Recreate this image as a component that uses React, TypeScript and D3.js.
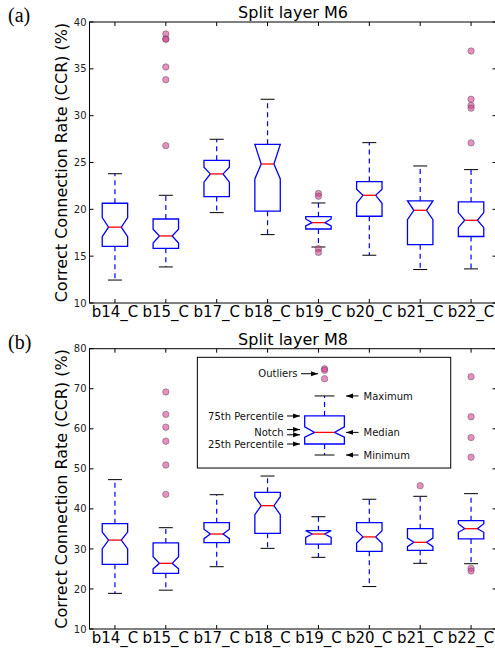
import { useEffect, useRef } from 'react';
import * as d3 from 'd3';

const categories = ['b14_C', 'b15_C', 'b17_C', 'b18_C', 'b19_C', 'b20_C', 'b21_C', 'b22_C'];

// Split layer M6
const m6WhiskerLow = [12.45, 13.85, 19.65, 17.3, 15.98, 15.1, 13.57, 13.64];
const m6Q1 = [16.05, 15.84, 21.36, 19.8, 17.9, 19.26, 16.23, 17.1];
const m6NotchLow = [17.08, 16.4, 22.9, 23.24, 18.22, 20.65, 18.9, 18.04];
const m6Median = [18.1, 17.16, 23.78, 24.84, 18.58, 21.5, 19.9, 18.83];
const m6NotchHigh = [19.11, 17.87, 24.5, 26.94, 18.97, 22.14, 20.9, 19.65];
const m6Q3 = [20.65, 18.97, 25.23, 26.94, 19.22, 22.96, 20.9, 20.79];
const m6WhiskerHigh = [23.8, 21.5, 27.48, 31.75, 20.68, 27.12, 24.63, 24.24];
const m6Outliers = [
  [],
  [38.72, 38.2, 38.15, 35.2, 33.84, 26.8],
  [],
  [],
  [21.7, 21.4, 15.8, 15.4],
  [],
  [],
  [36.9, 31.75, 31.1, 30.8, 27.1],
];

// Split layer M8
const m8WhiskerLow = [18.9, 19.7, 25.56, 30.14, 27.9, 20.6, 26.4, 26.3];
const m8Q1 = [26.15, 23.9, 31.55, 33.9, 31.2, 29.4, 29.65, 32.5];
const m8NotchLow = [30.0, 25.06, 32.55, 38.55, 32.9, 31.4, 30.55, 34.15];
const m8Median = [32.2, 26.4, 33.72, 40.8, 33.72, 33.0, 31.65, 35.05];
const m8NotchHigh = [34.2, 28.05, 34.9, 43.04, 34.55, 34.55, 32.7, 36.3];
const m8Q3 = [36.3, 31.5, 36.55, 44.13, 34.55, 36.55, 35.05, 37.05];
const m8WhiskerHigh = [47.3, 35.3, 43.54, 48.2, 38.04, 42.4, 43.14, 43.8];
const m8Outliers = [
  [],
  [69.2, 63.6, 60.4, 56.9, 50.95, 43.63],
  [],
  [],
  [],
  [],
  [45.8],
  [73.0, 63.0, 57.8, 52.9, 25.15, 24.5],
];

// explanatory box in panel (b): min, q1, notch low, median, notch high, q3, max
const legendBox = [53.45, 56.2, 57.9, 59.1, 60.5, 63.2, 68.2];
const legendOutliers = [75.0, 74.6, 72.5];
const legendLeftLabels = ['75th Percentile', 'Notch', '25th Percentile'];
const legendRightLabels = ['Maximum', 'Median', 'Minimum'];

const FONT = 'DejaVu Sans, sans-serif';
const BLUE = '#0000ff';
const RED = '#ff0000';

type Panel = {
  letter: string;
  title: string;
  top: number;
  bottom: number;
  domain: [number, number];
  step: number;
  whiskerLow: number[];
  q1: number[];
  notchLow: number[];
  median: number[];
  notchHigh: number[];
  q3: number[];
  whiskerHigh: number[];
  outliers: number[][];
};

const panels: Panel[] = [
  {
    letter: '(a)', title: 'Split layer M6', top: 22, bottom: 303, domain: [10, 40], step: 5,
    whiskerLow: m6WhiskerLow, q1: m6Q1, notchLow: m6NotchLow, median: m6Median,
    notchHigh: m6NotchHigh, q3: m6Q3, whiskerHigh: m6WhiskerHigh, outliers: m6Outliers,
  },
  {
    letter: '(b)', title: 'Split layer M8', top: 348.7, bottom: 629, domain: [10, 80], step: 10,
    whiskerLow: m8WhiskerLow, q1: m8Q1, notchLow: m8NotchLow, median: m8Median,
    notchHigh: m8NotchHigh, q3: m8Q3, whiskerHigh: m8WhiskerHigh, outliers: m8Outliers,
  },
];

function notchPath(cx: number, hw: number, y: d3.ScaleLinear<number, number>, s: number[]) {
  // s = [q1, notchLow, median, notchHigh, q3]
  const [q1, nlo, med, nhi, q3] = s;
  const p = d3.path();
  p.moveTo(cx - hw, y(q1));
  p.lineTo(cx + hw, y(q1));
  p.lineTo(cx + hw, y(nlo));
  p.lineTo(cx + hw / 2, y(med));
  p.lineTo(cx + hw, y(nhi));
  p.lineTo(cx + hw, y(q3));
  p.lineTo(cx - hw, y(q3));
  p.lineTo(cx - hw, y(nhi));
  p.lineTo(cx - hw / 2, y(med));
  p.lineTo(cx - hw, y(nlo));
  p.closePath();
  return p.toString();
}

export default function App() {
  const svgRef = useRef<SVGSVGElement>(null);

  useEffect(() => {
    if (!svgRef.current) return;
    const width = 495;
    const height = 654;

    d3.select(svgRef.current).selectAll('*').remove();
    const svg = d3.select(svgRef.current).attr('width', width).attr('height', height);

    svg
      .append('defs')
      .append('marker')
      .attr('id', 'arrowhead')
      .attr('markerUnits', 'userSpaceOnUse')
      .attr('markerWidth', 7)
      .attr('markerHeight', 6)
      .attr('refX', 7)
      .attr('refY', 3)
      .attr('orient', 'auto')
      .append('path')
      .attr('d', 'M0,0.5 L7,3 L0,5.5 Z')
      .attr('fill', '#000');

    const xScale = d3.scaleLinear().domain([0.5, 8.5]).range([89.5, 496.5]);
    const x0 = xScale(0.5);
    const x1 = xScale(8.5);
    const hw = xScale(1.25) - xScale(1);

    panels.forEach((pnl, pi) => {
      const yScale = d3.scaleLinear().domain(pnl.domain).range([pnl.bottom, pnl.top]);
      const g = svg.append('g');

      // Spines
      g.append('rect')
        .attr('x', x0)
        .attr('y', pnl.top)
        .attr('width', x1 - x0)
        .attr('height', pnl.bottom - pnl.top)
        .attr('fill', 'none')
        .attr('stroke', '#000')
        .attr('stroke-width', 1);

      // Y ticks (inside, both sides)
      const yTicks = d3.range(pnl.domain[0], pnl.domain[1] + 0.001, pnl.step);
      yTicks.forEach((t) => {
        const yy = yScale(t);
        g.append('line').attr('x1', x0).attr('x2', x0 + 4).attr('y1', yy).attr('y2', yy).attr('stroke', '#000');
        g.append('line').attr('x1', x1 - 4).attr('x2', x1).attr('y1', yy).attr('y2', yy).attr('stroke', '#000');
        g.append('text')
          .attr('x', x0 - 3)
          .attr('y', yy)
          .attr('dy', '0.36em')
          .attr('text-anchor', 'end')
          .attr('font-family', FONT)
          .attr('font-size', 10)
          .attr('fill', '#222')
          .text(t);
      });

      // X ticks (inside, top and bottom) and category labels
      categories.forEach((c, i) => {
        const xx = xScale(i + 1);
        g.append('line').attr('x1', xx).attr('x2', xx).attr('y1', pnl.bottom).attr('y2', pnl.bottom - 4).attr('stroke', '#000');
        g.append('line').attr('x1', xx).attr('x2', xx).attr('y1', pnl.top).attr('y2', pnl.top + 4).attr('stroke', '#000');
        g.append('text')
          .attr('x', xx)
          .attr('y', pnl.bottom + 14)
          .attr('text-anchor', 'middle')
          .attr('font-family', FONT)
          .attr('font-size', 15)
          .attr('fill', '#000')
          .text(c);
      });

      // Title, panel letter, y label
      g.append('text')
        .attr('x', (x0 + x1) / 2)
        .attr('y', pnl.top - 4)
        .attr('text-anchor', 'middle')
        .attr('font-family', FONT)
        .attr('font-size', 16)
        .text(pnl.title);

      g.append('text')
        .attr('x', 8)
        .attr('y', pnl.top)
        .attr('font-family', 'Liberation Serif, serif')
        .attr('font-size', 20)
        .text(pnl.letter);

      g.append('text')
        .attr('transform', `translate(67, ${(pnl.top + pnl.bottom) / 2}) rotate(-90)`)
        .attr('text-anchor', 'middle')
        .attr('font-family', FONT)
        .attr('font-size', 16)
        .text('Correct Connection Rate (CCR) (%)');

      // Inset explanation in panel (b)
      if (pi === 1) {
        const ig = g.append('g');
        ig.append('rect')
          .attr('x', xScale(2.62))
          .attr('y', yScale(77.85))
          .attr('width', xScale(7.6) - xScale(2.62))
          .attr('height', yScale(50.2) - yScale(77.85))
          .attr('fill', '#fff')
          .attr('stroke', '#000')
          .attr('stroke-width', 1);

        const cx = xScale(5.12);
        const lhw = xScale(5.51) - xScale(5.12);
        const [mn, lq1, lnlo, lmed, lnhi, lq3, mx] = legendBox;

        ig.append('line').attr('x1', cx).attr('x2', cx).attr('y1', yScale(lq3)).attr('y2', yScale(mx))
          .attr('stroke', BLUE).attr('stroke-width', 1.2).attr('stroke-dasharray', '5,4');
        ig.append('line').attr('x1', cx).attr('x2', cx).attr('y1', yScale(lq1)).attr('y2', yScale(mn))
          .attr('stroke', BLUE).attr('stroke-width', 1.2).attr('stroke-dasharray', '5,4');
        [mn, mx].forEach((v) => {
          ig.append('line').attr('x1', cx - lhw / 2).attr('x2', cx + lhw / 2).attr('y1', yScale(v)).attr('y2', yScale(v))
            .attr('stroke', '#000').attr('stroke-width', 1);
        });
        ig.append('path')
          .attr('d', notchPath(cx, lhw, yScale, [lq1, lnlo, lmed, lnhi, lq3]))
          .attr('fill', '#fff')
          .attr('stroke', BLUE)
          .attr('stroke-width', 1.3);
        ig.append('line').attr('x1', cx - lhw / 2).attr('x2', cx + lhw / 2).attr('y1', yScale(lmed)).attr('y2', yScale(lmed))
          .attr('stroke', RED).attr('stroke-width', 1.3);
        legendOutliers.forEach((v) => {
          ig.append('circle').attr('cx', cx).attr('cy', yScale(v)).attr('r', 3.2)
            .attr('fill', '#d6338a').attr('fill-opacity', 0.55).attr('stroke', '#555').attr('stroke-opacity', 0.5);
        });

        const arrow = (xa: number, xb: number, yy: number) => {
          ig.append('line').attr('x1', xa).attr('x2', xb).attr('y1', yy).attr('y2', yy)
            .attr('stroke', '#000').attr('stroke-width', 1).attr('marker-end', 'url(#arrowhead)');
        };
        const label = (xx: number, yy: number, anchor: string, s: string) => {
          ig.append('text').attr('x', xx).attr('y', yy).attr('dy', '0.36em').attr('text-anchor', anchor)
            .attr('font-family', FONT).attr('font-size', 10).attr('fill', '#111').text(s);
        };

        // Outliers
        const yOut = (yScale(legendOutliers[0]) + yScale(legendOutliers[2])) / 2;
        label(cx - 27, yOut, 'end', 'Outliers');
        arrow(cx - 23.5, cx - 6.5, yOut);

        // Left side labels
        const leftY = [yScale(lq3), yScale(lmed), yScale(lq1)];
        legendLeftLabels.forEach((s, i) => label(cx - 41, leftY[i], 'end', s));
        arrow(cx - 37.5, cx - 24.5, yScale(lq3));
        arrow(cx - 37.5, cx - 24.5, yScale(lq1));
        arrow(cx - 37.5, cx - 24.5, (yScale(lnhi) + yScale(lmed)) / 2);
        arrow(cx - 37.5, cx - 24.5, (yScale(lnlo) + yScale(lmed)) / 2);

        // Right side labels
        const rightY = [yScale(mx), yScale(lmed), yScale(mn)];
        legendRightLabels.forEach((s, i) => {
          label(cx + 39, rightY[i], 'start', s);
          arrow(cx + 34, cx + 21.5, rightY[i]);
        });
      }

      // Boxes
      categories.forEach((_, i) => {
        const cx = xScale(i + 1);
        const bg = g.append('g');

        bg.append('line').attr('x1', cx).attr('x2', cx)
          .attr('y1', yScale(pnl.q3[i])).attr('y2', yScale(pnl.whiskerHigh[i]))
          .attr('stroke', BLUE).attr('stroke-width', 1.2).attr('stroke-dasharray', '5,4');
        bg.append('line').attr('x1', cx).attr('x2', cx)
          .attr('y1', yScale(pnl.q1[i])).attr('y2', yScale(pnl.whiskerLow[i]))
          .attr('stroke', BLUE).attr('stroke-width', 1.2).attr('stroke-dasharray', '5,4');

        [pnl.whiskerLow[i], pnl.whiskerHigh[i]].forEach((v) => {
          bg.append('line').attr('x1', cx - 7).attr('x2', cx + 7)
            .attr('y1', yScale(v)).attr('y2', yScale(v))
            .attr('stroke', '#000').attr('stroke-width', 1);
        });

        bg.append('path')
          .attr('d', notchPath(cx, hw, yScale, [pnl.q1[i], pnl.notchLow[i], pnl.median[i], pnl.notchHigh[i], pnl.q3[i]]))
          .attr('fill', 'none')
          .attr('stroke', BLUE)
          .attr('stroke-width', 1.3);

        bg.append('line').attr('x1', cx - hw / 2).attr('x2', cx + hw / 2)
          .attr('y1', yScale(pnl.median[i])).attr('y2', yScale(pnl.median[i]))
          .attr('stroke', RED).attr('stroke-width', 1.3);

        pnl.outliers[i].forEach((v) => {
          bg.append('circle')
            .attr('cx', cx)
            .attr('cy', yScale(v))
            .attr('r', 3.2)
            .attr('fill', '#d6338a')
            .attr('fill-opacity', 0.55)
            .attr('stroke', '#555')
            .attr('stroke-opacity', 0.5);
        });
      });
    });
  }, []);

  return <svg ref={svgRef} style={{ position: 'absolute', left: 0, top: 0, background: '#fff' }} />;
}
